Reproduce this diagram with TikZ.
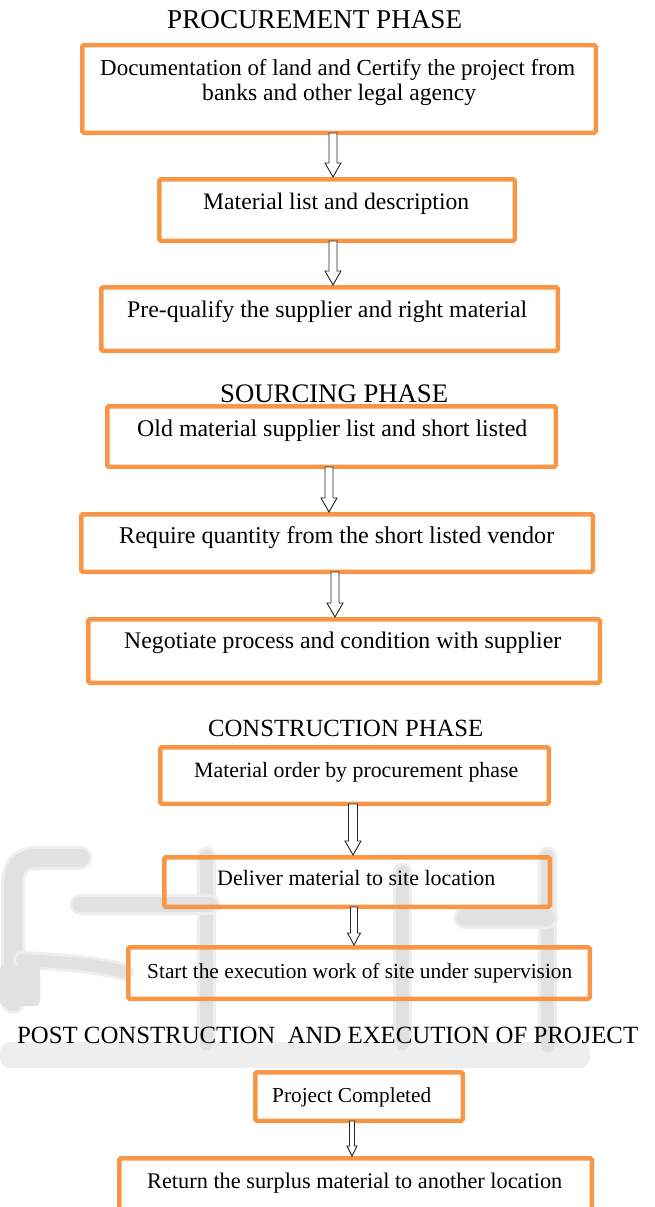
\documentclass[tikz,border=0pt]{standalone}
\usepackage{fontspec}
\setmainfont{Liberation Serif}
\usepackage{graphicx}
\usetikzlibrary{calc}
\definecolor{boxorange}{HTML}{F79646}
\definecolor{wmgray}{HTML}{E1E1E1}
\definecolor{wmsoft}{HTML}{EEEEEE}

% box: name, centre x, centre y, outer width, outer height
\newcommand\obx[5]{\node[obox, minimum width={#4-4.5}, minimum height={#5-4.5}] (#1) at (#2,#3) {};}
% text: name, left x, baseline y, printed width, text
\newcommand\ftext[5]{\node[lbl] (#1) at (#2,#3) {\resizebox{#4pt}{!}{#5}};}
% hollow block arrow: from, to, x, shaft half width, head half width, head length
\newcommand\flowarrow[6]{%
  \draw[barrow] let \p1=(#1.south), \p2=(#2.north) in
    ({#3pt-#4pt},{\y1+2pt}) -- ({#3pt-#4pt},{\y2+#6pt}) -- ({#3pt-#5pt},{\y2+#6pt})
    -- ({#3pt},\y2) -- ({#3pt+#5pt},{\y2+#6pt}) -- ({#3pt+#4pt},{\y2+#6pt})
    -- ({#3pt+#4pt},{\y1+2pt}) -- cycle;}
% soft background stroke: a wide pale pass under a narrower darker one
\newcommand\wmstroke[2]{%
  \draw[wmsoft, line width={#1+6pt}, line cap=round] #2;
  \draw[wmgray, line width=#1, line cap=round] #2;}

\begin{document}
\begin{tikzpicture}[x=1pt,y=-1pt,
  obox/.style={draw=boxorange, line width=4.5pt, rounded corners=1.5pt, inner sep=0pt},
  lbl/.style={anchor=base west, inner sep=0pt, text=black},
  barrow/.style={draw=black!85, line width=0.9pt, fill=white, line join=miter},
]
\useasboundingbox (0,0) rectangle (654,1207);

% faint logo in the background
\fill[wmsoft, rounded corners=10pt] (0,1042) rectangle (590,1068);
\wmstroke{13pt}{(206.5,856) -- (206.5,1044)}
\wmstroke{13pt}{(402.5,872) -- (402.5,1044)}
\wmstroke{13pt}{(547.5,856) -- (547.5,1046)}
\wmstroke{15pt}{(80,904.5) -- (210,904.5)}
\wmstroke{17pt}{(465,917.5) -- (547,917.5)}
\wmstroke{18pt}{(80,858) -- (38,858) .. controls (18,858) and (13,868) .. (13,888) -- (13,1002)}
\wmstroke{12pt}{(22,960) .. controls (60,962) and (95,964) .. (125,972)}
\fill[wmgray, rounded corners=4pt] (0,965) rectangle (40,1006);

% procurement phase
\ftext{t0}{167}{29}{295}{PROCUREMENT\ PHASE}
\obx{b1}{339}{89}{518}{92}
\ftext{t1a}{100}{76}{475}{Documentation of land and Certify the project from}
\ftext{t1b}{202}{100}{274}{banks and other legal agency}
\obx{b2}{337}{210}{360}{66}
\ftext{t2}{203}{209}{266}{Material list and description}
\obx{b3}{329.5}{319}{461}{68}
\ftext{t3}{127}{317}{400}{Pre-qualify the supplier and right material}

% sourcing phase
\ftext{s0}{220}{402}{228}{SOURCING PHASE}
\obx{b4}{331.5}{436.5}{453}{65}
\ftext{t4}{137}{436}{390}{Old material supplier list and short listed}
\obx{b5}{337}{543}{516}{62}
\ftext{t5}{119}{543}{435}{Require quantity from the short listed vendor}
\obx{b6}{344}{651}{516}{68}
\ftext{t6}{124}{648}{437}{Negotiate process and condition with supplier}

% construction phase
\ftext{c0}{208}{736}{275}{CONSTRUCTION PHASE}
\obx{b7}{354.5}{775.5}{393}{61}
\ftext{t7}{194}{777}{324}{Material order by procurement phase}
\obx{b8}{357}{882}{390}{54}
\ftext{t8}{217}{885}{278}{Deliver material to site location}
\obx{b9}{359}{973}{466}{56}
\ftext{t9}{147}{978}{425}{Start the execution work of site under supervision}

% post construction
\ftext{p0}{17}{1043}{621}{POST CONSTRUCTION\ \ AND EXECUTION OF PROJECT}
\obx{b10}{359}{1096.5}{212}{53}
\ftext{t10}{272}{1102}{159}{Project Completed}
\obx{b11}{355.5}{1185.5}{477}{59}
\ftext{t11}{147}{1188}{415}{Return the surplus material to another location}

% connectors
\flowarrow{b1}{b2}{333}{4}{8}{14}
\flowarrow{b2}{b3}{333}{4}{8}{14}
\flowarrow{b4}{b5}{329}{4}{8}{14}
\flowarrow{b5}{b6}{335}{4}{8}{14}
\flowarrow{b7}{b8}{353}{4.5}{8}{14}
\flowarrow{b8}{b9}{354}{3.5}{6.5}{12}
\flowarrow{b10}{b11}{352}{2.5}{5}{10}
\end{tikzpicture}
\end{document}
